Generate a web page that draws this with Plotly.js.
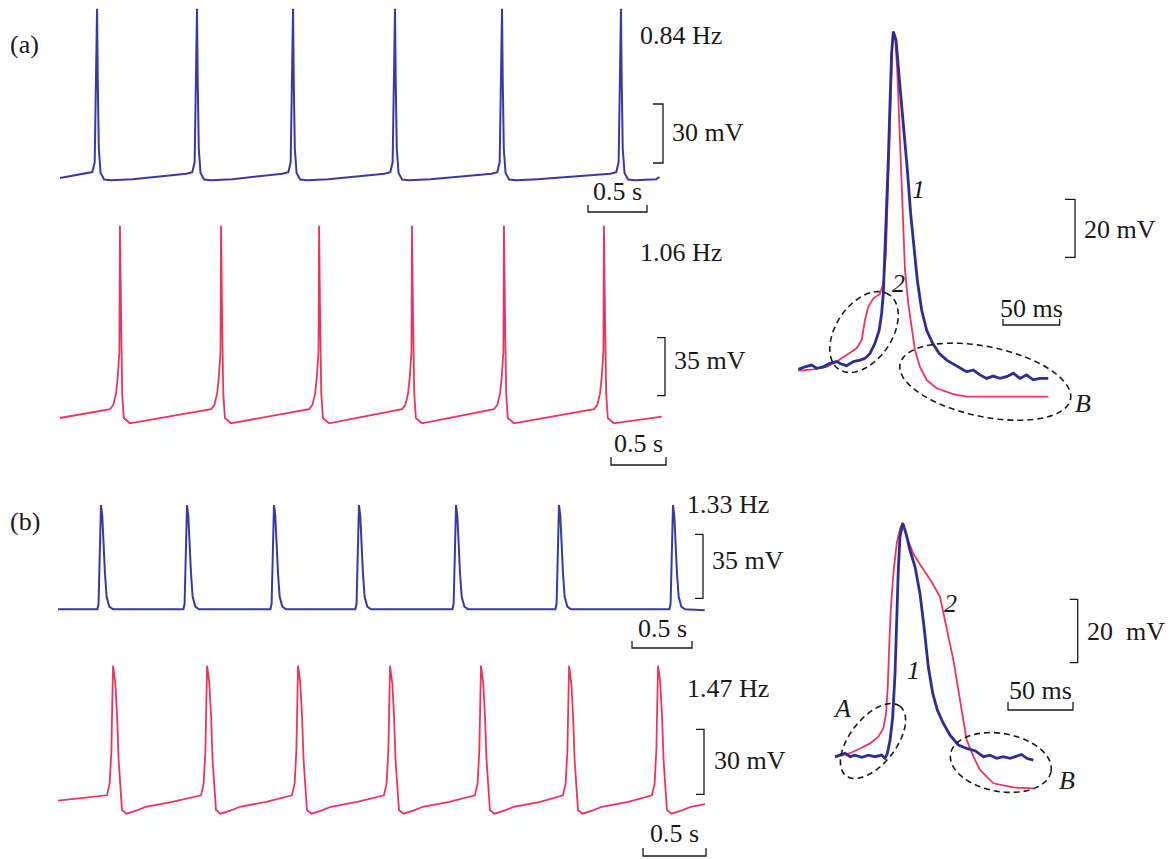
<!DOCTYPE html>
<html>
<head>
<meta charset="utf-8">
<script src="https://cdn.plot.ly/plotly-3.0.1.min.js"></script>
<style>html,body{margin:0;padding:0;background:#fff;}#chart{width:1169px;height:859px;}</style>
</head>
<body>
<div id="chart"></div>
<script>
// ---------------- DATA ----------------
// (a) upper trace, blue, 0.84 Hz : spike peak times (s) and one spike waveform (s offset, mV)
const a1Spikes = [0.314, 1.161, 1.975, 2.839, 3.746, 4.754];
const a1ShapeT = [-0.09, -0.04, -0.02, -0.008, 0, 0.006, 0.015, 0.03, 0.06, 0.12, 0.3];
const a1ShapeV = [-57.8, -57, -52, -12, 26, -10, -45, -57.5, -60.8, -61.2, -60.6];
const a1Start = [0, -60];
const a1End = [5.08, -59.5];

// (a) lower trace, red, 1.06 Hz
const a2Spikes = [0.545, 1.464, 2.355, 3.2, 4.036, 4.945];
const a2ShapeT = [-0.09, -0.06, -0.035, -0.02, -0.005, 0, 0.008, 0.02, 0.035, 0.09];
const a2ShapeV = [-54.7, -52, -45, -35, -20, 56, 10, -45, -60, -63.2];
const a2Start = [0, -60];
const a2End = [5.47, -59.2];

// (b) upper trace, blue, 1.33 Hz
const b1Spikes = [0.358, 1.075, 1.8, 2.508, 3.317, 4.175, 5.125];
const b1ShapeT = [-0.03, -0.02, -0.008, 0, 0.011, 0.019, 0.033, 0.047, 0.069, 0.1];
const b1ShapeV = [-60, -57, -27, -3, -9, -22, -40, -53, -58.5, -60];
const b1Start = [0, -60];
const b1End = [5.39, -60.5];

// (b) lower trace, red, 1.47 Hz
const b2Spikes = [0.437, 1.183, 1.905, 2.635, 3.357, 4.056, 4.762];
const b2ShapeT = [-0.048, -0.027, -0.013, -0.006, 0, 0.018, 0.032, 0.044, 0.058, 0.071, 0.106, 0.19, 0.26, 0.47];
const b2ShapeV = [-57.5, -52, -36.6, -13.5, 2.3, -5.8, -21.2, -41.2, -55.1, -64.3, -66, -64.5, -62.8, -60.5];
const b2Start = [0, -60];
const b2End = [5.135, -61.6];

// (a) right: superimposed single spikes (ms, mV); 1 = blue, 2 = red
const ca1T = [-83.8,-77.9,-72.1,-67.6,-61.8,-55.9,-50,-45.6,-41.2,-35.3,-29.4,-25,-20.6,-16.2,-12.4,-10.3,-8.8,-7.4,-5.9,-4.4,-2.9,-1.5,0,2.4,5.9,9.4,12.4,15.3,18.2,21.2,25,29.4,34.7,40.6,47.1,54.4,60.3,64.7,70.6,76.5,82.4,88.2,94.1,100,105.9,111.8,117.6,123.5,129.4,136.8];
const ca1V = [-59.8,-58.9,-58.3,-59.4,-58.9,-57.7,-57.1,-58,-58.5,-57.1,-56.6,-56,-54.3,-50.8,-46.2,-40.5,-33.6,-19.8,-2.5,12.4,32,49.2,56.7,53.8,37.7,22.8,9,-6,-17.5,-29,-39.3,-46.2,-50.8,-54.3,-56.6,-58.3,-59.4,-60.6,-60,-61.7,-62.9,-62.1,-62.9,-62.3,-61.1,-62.9,-61.7,-63.4,-62.9,-62.9];
const ca2T = [-83.8,-70.6,-58.8,-50,-41.2,-32.4,-27.9,-25,-22.1,-17.6,-11.8,-8.8,-6.5,-4.4,-2.4,-0.9,0,1.8,3.5,5.9,7.9,10.3,13.2,16.2,19.1,23.5,29.4,38.2,52.9,64.7,105.9,136.8];
const ca2V = [-60.2,-59.8,-58.9,-57.1,-54.8,-52.5,-49.7,-42.8,-38.2,-35.3,-33.8,-30.1,-19.8,9,37.7,51.5,56.7,53.8,43.4,20.5,-2.5,-25.5,-37,-46.2,-53.1,-58.9,-63.4,-66.3,-68.3,-69.2,-69.2,-69.2];

// (b) right: superimposed single spikes (ms, mV); 1 = blue, 2 = red
const cb1T = [-52.1,-48.2,-44.4,-40.5,-36.7,-31.5,-26.4,-21.3,-16.2,-13.6,-11.8,-9.7,-7.7,-5.9,-4.6,-3.3,-2.1,0,2.6,5.6,9.5,13.3,16.4,19.7,23.1,26.7,31.3,36.4,42.8,49.2,55.6,62.1,67.2,72.3,77.4,82.6,87.7,91.5,95.4,100.5];
const cb1V = [-60,-59.5,-58.9,-60,-59.5,-60.2,-59.5,-60,-59.5,-60.5,-58.9,-54.7,-47.4,-33.7,-15.8,0,9.4,13.8,10.5,5.2,0,-8.5,-19,-31.6,-40,-45.3,-49.5,-53.2,-56.3,-57.4,-58.1,-60,-59.5,-60.5,-60,-60.5,-59.8,-59.3,-60.5,-61.1];
const cb2T = [-52.1,-45.6,-40.5,-32.8,-25.1,-18.7,-14.9,-12.8,-11.5,-10.5,-9.2,-7.2,-4.6,-2.1,0,3.1,8.2,14.6,22.3,28.7,33.8,39,44.1,49.2,54.4,59.5,69.7,85.1,100.5];
const cb2V = [-60.2,-59.5,-58.9,-57.4,-55.8,-53.7,-51.1,-46.3,-37.9,-26.4,-13.7,-2.2,7.3,12,13.8,9.4,4.1,-0.1,-4.8,-9.5,-19,-29.5,-42.1,-54.7,-60,-64.2,-68.4,-69.7,-70];

// text
const freqLabels = ["0.84 Hz", "1.06 Hz", "1.33 Hz", "1.47 Hz"];
const ampLabels = ["30 mV", "35 mV", "35 mV", "30 mV", "20 mV", "20  mV"];
const timeLabels = ["0.5 s", "0.5 s", "0.5 s", "0.5 s", "50 ms", "50 ms"];
const scaleAmp = [30, 35, 35, 30, 20, 20];      // mV
const scaleTime = [0.5, 0.5, 0.5, 0.5, 50, 50]; // s, s, s, s, ms, ms

// ---------------- LAYOUT HELPERS ----------------
const W = 1169, H = 859;
const BLUE = 'rgb(58,58,165)';
const RED = 'rgb(238,52,92)';
const FONT = {family: '"Liberation Serif", "Times New Roman", Times, serif', size: 26, color: '#1a1a1a'};

// panel pixel geometry: box [x0,x1,y0,y1], pixel of t=0, pixel of v=-60, px per time unit, px per mV
const panels = [
  {box:[55,672,3,220],   px0:60,    py0:178,   sx:118,   sy:59/30},
  {box:[55,672,222,470], px0:60,    py0:418,   sx:110,   sy:58/35},
  {box:[52,712,495,652], px0:58,    py0:609.3, sx:120,   sy:64/35},
  {box:[52,712,655,858], px0:58,    py0:800.7, sx:126,   sy:65/30},
  {box:[790,1082,22,400],px0:893.3, py0:370,   sx:1.133, sy:58/20},
  {box:[825,1082,512,798],px0:902.7,py0:756.7, sx:1.3,   sy:63.3/20}
];
const VREF = -60;
function toT(p, px){ return (px - p.px0) / p.sx; }
function toV(p, py){ return VREF + (p.py0 - py) / p.sy; }

const layout = {
  width: W, height: H,
  margin: {l:0, r:0, t:0, b:0},
  paper_bgcolor: '#ffffff',
  plot_bgcolor: 'rgba(0,0,0,0)',
  showlegend: false,
  font: FONT,
  shapes: [],
  annotations: []
};
panels.forEach((p, i) => {
  const n = i + 1;
  const [x0, x1, y0, y1] = p.box;
  layout['xaxis' + (n === 1 ? '' : n)] = {
    domain: [x0 / W, x1 / W], range: [toT(p, x0), toT(p, x1)],
    visible: false, anchor: 'y' + (n === 1 ? '' : n), fixedrange: true
  };
  layout['yaxis' + (n === 1 ? '' : n)] = {
    domain: [1 - y1 / H, 1 - y0 / H], range: [toV(p, y1), toV(p, y0)],
    visible: false, anchor: 'x' + (n === 1 ? '' : n), fixedrange: true
  };
});
function refs(i){ const n = i + 1; return n === 1 ? ['x','y'] : ['x' + n, 'y' + n]; }

// build a spike train from spike times + one waveform
function train(spikes, shT, shV, start, end){
  const xs = [start[0]], ys = [start[1]];
  spikes.forEach(s => {
    shT.forEach((dt, k) => {
      const t = s + dt;
      if (t > start[0] && t < end[0]) { xs.push(t); ys.push(shV[k]); }
    });
  });
  xs.push(end[0]); ys.push(end[1]);
  return [xs, ys];
}

const traces = [];
function addTrace(i, xs, ys, color, width){
  const [xr, yr] = refs(i);
  traces.push({type:'scatter', mode:'lines', x: xs, y: ys, xaxis: xr, yaxis: yr,
    line: {color: color, width: width, shape: 'linear'}, hoverinfo: 'skip', cliponaxis: false});
}
let d;
d = train(a1Spikes, a1ShapeT, a1ShapeV, a1Start, a1End); addTrace(0, d[0], d[1], BLUE, 2);
d = train(a2Spikes, a2ShapeT, a2ShapeV, a2Start, a2End); addTrace(1, d[0], d[1], RED, 1.8);
d = train(b1Spikes, b1ShapeT, b1ShapeV, b1Start, b1End); addTrace(2, d[0], d[1], BLUE, 2);
d = train(b2Spikes, b2ShapeT, b2ShapeV, b2Start, b2End); addTrace(3, d[0], d[1], RED, 1.8);
addTrace(4, ca2T, ca2V, RED, 1.8);
addTrace(4, ca1T, ca1V, 'rgb(45,45,150)', 2.8);
addTrace(5, cb2T, cb2V, RED, 1.8);
addTrace(5, cb1T, cb1V, 'rgb(45,45,150)', 2.8);

// scale bars in data units of each panel
function vbar(i, pxRight, pyBottom, amp, tickPx){
  const p = panels[i], [xr, yr] = refs(i);
  const xR = toT(p, pxRight), xL = toT(p, pxRight - tickPx);
  const vb = toV(p, pyBottom), vt = vb + amp;
  layout.shapes.push({type:'path', xref:xr, yref:yr,
    path:`M${xL},${vb} L${xR},${vb} L${xR},${vt} L${xL},${vt}`,
    line:{color:'#1a1a1a', width:1.3}});
}
function hbar(i, pxLeft, pyBar, dur, tickPx){
  const p = panels[i], [xr, yr] = refs(i);
  const t0 = toT(p, pxLeft), t1 = t0 + dur;
  const vb = toV(p, pyBar), vt = toV(p, pyBar - tickPx);
  layout.shapes.push({type:'path', xref:xr, yref:yr,
    path:`M${t0},${vt} L${t0},${vb} L${t1},${vb} L${t1},${vt}`,
    line:{color:'#1a1a1a', width:1.3}});
}
const vbarPos = [[663,163,10],[665,395.7,8],[703,598.3,8],[704,794.3,8],[1075,257.3,10],[1077.7,662.7,8]];
const hbarPos = [[588,212,7],[611,465,8],[632,648,7],[643,856,8],[1003,325,6],[1008,710,8]];
for (let i = 0; i < 6; i++){
  vbar(i, vbarPos[i][0], vbarPos[i][1], scaleAmp[i], vbarPos[i][2]);
  hbar(i, hbarPos[i][0], hbarPos[i][1], scaleTime[i], hbarPos[i][2]);
}

// dashed ellipses (paper coords)
function ellipsePath(cx, cy, a, b, deg){
  const th = deg * Math.PI / 180, pts = [];
  for (let k = 0; k <= 90; k++){
    const u = 2 * Math.PI * k / 90;
    const ex = a * Math.cos(u), ey = b * Math.sin(u);
    const px = cx + ex * Math.cos(th) - ey * Math.sin(th);
    const py = cy - (ex * Math.sin(th) + ey * Math.cos(th));
    pts.push((px / W).toFixed(5) + ',' + (1 - py / H).toFixed(5));
  }
  return 'M' + pts.join('L') + 'Z';
}
[[864,332,45,28,56],[985.3,381.7,87,35,-11.7],[873,741,44,23,52],[1000.8,762.5,51,29,-10]].forEach(e => {
  layout.shapes.push({type:'path', xref:'paper', yref:'paper', path: ellipsePath(...e),
    line:{color:'#1a1a1a', width:1.6, dash:'6px,4px'}});
});

// text annotations (pixel positions converted to paper)
function txt(s, px, py, xanchor, italic){
  layout.annotations.push({text: italic ? '<i>' + s + '</i>' : s, x: px / W, y: 1 - py / H,
    xref:'paper', yref:'paper', xanchor: xanchor, yanchor:'middle', showarrow:false, font: FONT});
}
txt('(a)', 8, 45, 'left');
txt('(b)', 8, 521, 'left');
const freqPos = [[638,35],[638,253],[685,505],[685,688]];
freqLabels.forEach((s, i) => txt(s, freqPos[i][0], freqPos[i][1], 'left'));
const ampPos = [[670,133],[672,360],[710,560],[712,760],[1082,229],[1085,631]];
ampLabels.forEach((s, i) => txt(s, ampPos[i][0], ampPos[i][1], 'left'));
const timePos = [[617,192],[638,444],[662,628],[674,833],[1031,308],[1040,690]];
timeLabels.forEach((s, i) => txt(s, timePos[i][0], timePos[i][1], 'center'));
txt('1', 918, 190, 'center', true);
txt('2', 898, 283, 'center', true);
txt('B', 1083, 403, 'center', true);
txt('2', 950, 603, 'center', true);
txt('1', 913, 670, 'center', true);
txt('A', 842, 708, 'center', true);
txt('B', 1067, 780, 'center', true);

Plotly.newPlot('chart', traces, layout, {staticPlot: true, displayModeBar: false});
</script>
</body>
</html>
